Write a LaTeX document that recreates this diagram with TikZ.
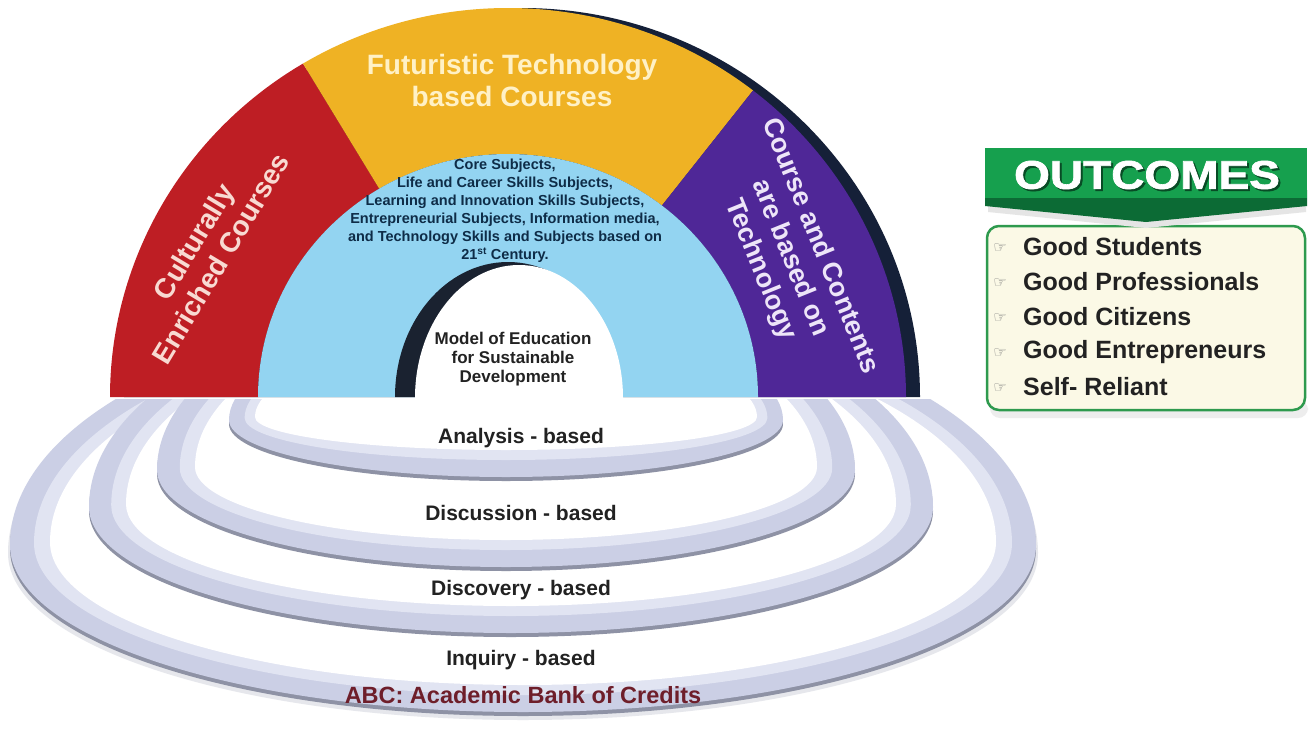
\documentclass[tikz,border=0pt]{standalone}
\usepackage{fontspec}
\setmainfont{Liberation Sans}
\newfontfamily\dejavu{DejaVu Sans}
\newfontfamily\heavyfont{Liberation Sans}[BoldFeatures={FakeBold=1.6}]
\usepackage{graphicx}
\definecolor{cred}{HTML}{BE1E24}
\definecolor{cyel}{HTML}{EFB224}
\definecolor{cpur}{HTML}{4F2797}
\definecolor{cnavy}{HTML}{152038}
\definecolor{cblue}{HTML}{93D4F1}
\definecolor{ccres}{HTML}{1A2230}
\definecolor{diskedge}{HTML}{8E92A5}
\definecolor{disklav}{HTML}{CBCFE5}
\definecolor{disklight}{HTML}{E1E4F2}
\definecolor{diskshadow}{HTML}{E6E7EC}
\definecolor{txtdark}{HTML}{222222}
\definecolor{abcred}{HTML}{6E1E2A}
\definecolor{bluetxt}{HTML}{0E2C47}
\definecolor{cgreen}{HTML}{16A04E}
\definecolor{cdgreen}{HTML}{0C6B35}
\definecolor{boxfill}{HTML}{FBF9E6}
\definecolor{boxline}{HTML}{2E9A4E}
\definecolor{bulgray}{HTML}{7A7A7A}
\definecolor{redtxt}{HTML}{F8DAD2}
\definecolor{yeltxt}{HTML}{FFF1C6}
\definecolor{purtxt}{HTML}{EDE5F8}
% disc: #1 cx, #2 cy, #3 rx, #4 ry lower, #5 ry upper, #6 colour
\newcommand\discfill[6]{%
  \fill[#6] ({#1-#3},#2) arc[start angle=180,end angle=0,x radius=#3,y radius=#4]
     arc[start angle=0,end angle=-180,x radius=#3,y radius=#5] -- cycle;}
% #6 here: side band width
\newcommand\drawdisc[6]{%
  \pgfmathsetmacro\dA{#2+4}%
  \discfill{#1}{\dA}{#3}{#4}{#5}{diskedge}%
  \discfill{#1}{#2}{#3}{#4}{#5}{disklav}%
  \pgfmathsetmacro\dB{#2-2}\pgfmathsetmacro\rB{#3-#6*0.6}%
  \pgfmathsetmacro\yB{#4-15}\pgfmathsetmacro\uB{#5-15}%
  \discfill{#1}{\dB}{\rB}{\yB}{\uB}{disklight}%
  \pgfmathsetmacro\dC{#2-3}\pgfmathsetmacro\rC{#3-#6}%
  \pgfmathsetmacro\yC{#4-24}\pgfmathsetmacro\uC{#5-24}%
  \discfill{#1}{\dC}{\rC}{\yC}{\uC}{white}%
}
\begin{document}
\begin{tikzpicture}[x=1pt,y=-1pt,
  archtxt/.style={font=\bfseries\fontsize{28}{32}\selectfont, align=center, inner sep=0pt},
  lvl/.style={font=\bfseries\fontsize{21}{23}\selectfont, text=txtdark, inner sep=0pt},
  item/.style={font=\bfseries\fontsize{25}{27}\selectfont, text=txtdark, anchor=west, inner sep=0pt},
  bul/.style={font=\dejavu\fontsize{15}{15}\selectfont, text=bulgray, inner sep=0pt}]
\useasboundingbox (0,0) rectangle (1314,731);
\fill[white] (0,0) rectangle (1314,731);

% ---------- stacked discs ----------
\begin{scope}
\clip (0,399) rectangle (1314,731);
\discfill{523}{553}{515}{167}{240}{diskshadow}
\drawdisc{523}{545}{513}{167}{240}{40}
\drawdisc{511}{507}{422}{126}{214}{37}
\drawdisc{506}{470}{349}{97}{182}{38}
\drawdisc{506}{420}{277}{57}{100}{26}
\end{scope}

\node[lvl] (analysis) at (521,438) {Analysis - based};
\node[lvl] (discussion) at (521,513) {Discussion - based};
\node[lvl] (discovery) at (521,590) {Discovery - based};
\node[lvl] (inquiry) at (521,660) {Inquiry - based};
\node[font=\bfseries\fontsize{23.5}{25}\selectfont, text=abcred, inner sep=0pt] (abc) at (523,695) {ABC: Academic Bank of Credits};

% ---------- arch ----------
\fill[cnavy] (124,397) arc[start angle=-180,end angle=0,x radius=398,y radius=389] -- cycle;
\fill[cred] (110,397) arc[start angle=-180,end angle=-121,x radius=398,y radius=389]
  -- ({508+250*cos(-121)},{397+243*sin(-121)})
  arc[start angle=-121,end angle=-180,x radius=250,y radius=243] -- cycle;
\fill[cyel] ({508+398*cos(-121)},{397+389*sin(-121)}) arc[start angle=-121,end angle=-52,x radius=398,y radius=389]
  -- ({508+250*cos(-52)},{397+243*sin(-52)})
  arc[start angle=-52,end angle=-121,x radius=250,y radius=243] -- cycle;
\fill[cpur] ({508+398*cos(-52)},{397+389*sin(-52)}) arc[start angle=-52,end angle=0,x radius=398,y radius=389]
  -- (758,397)
  arc[start angle=0,end angle=-52,x radius=250,y radius=243] -- cycle;
\fill[cblue] (258,397) arc[start angle=-180,end angle=0,x radius=250,y radius=243] -- cycle;
\fill[ccres] (395,397) arc[start angle=-180,end angle=0,x radius=113,y radius=135] -- cycle;
\fill[white] (415,398) arc[start angle=-180,end angle=0,x radius=104,y radius=133] -- cycle;

\node[archtxt, text=yeltxt] (futur) at (512,80) {\fontsize{28}{35}\selectfont Futuristic Technology\\based Courses};
\node[archtxt, text=redtxt, rotate=59] (cult) at (207,250) {Culturally\\Enriched Courses};
\node[archtxt, text=purtxt, rotate=-68, font=\bfseries\fontsize{27}{32}\selectfont] (tech) at (790,258) {Course and Contents\\are based on\\Technology};
\node[font=\bfseries\fontsize{14.5}{18}\selectfont, text=bluetxt, align=center, inner sep=0pt] (core) at (505,211)
  {Core Subjects,\\Life and Career Skills Subjects,\\Learning and Innovation Skills Subjects,\\Entrepreneurial Subjects, Information media,\\and Technology Skills and Subjects based on\\21\textsuperscript{st} Century.};
\node[font=\bfseries\fontsize{17}{19}\selectfont, text=txtdark, align=center, inner sep=0pt] (model) at (513,359)
  {Model of Education\\for Sustainable\\Development};

% ---------- outcomes ----------
\fill[black!7, rounded corners=10pt] (990,400) rectangle (1308,418);
\draw[boxline, line width=2.5pt, fill=boxfill, rounded corners=12pt] (987,226) rectangle (1305,410);
\fill[black!10] (988,205) -- (1306,205) -- (1306,212) -- (1146,228) -- (988,212) -- cycle;
\fill[cdgreen] (985,190) -- (1307,190) -- (1307,206) -- (1146,222) -- (985,206) -- cycle;
\fill[cgreen] (985,148) rectangle (1307,198);
\node[font=\heavyfont\bfseries\fontsize{40}{40}\selectfont, text=cdgreen!70!black, inner sep=0pt] (outsh) at (1149,177) {\scalebox{1.15}[1]{OUTCOMES}};
\node[font=\heavyfont\bfseries\fontsize{40}{40}\selectfont, text=white, inner sep=0pt] (outcomes) at (1147,175) {\scalebox{1.15}[1]{OUTCOMES}};

\node[bul] (b1) at (1000,248) {☞};
\node[bul] (b2) at (1000,283) {☞};
\node[bul] (b3) at (1000,318) {☞};
\node[bul] (b4) at (1000,353) {☞};
\node[bul] (b5) at (1000,388) {☞};
\node[item] (i1) at (1023,247) {Good Students};
\node[item] (i2) at (1023,282) {Good Professionals};
\node[item] (i3) at (1023,317) {Good Citizens};
\node[item] (i4) at (1023,352) {Good Entrepreneurs};
\node[item] (i5) at (1023,387) {Self- Reliant};
\end{tikzpicture}
\end{document}
